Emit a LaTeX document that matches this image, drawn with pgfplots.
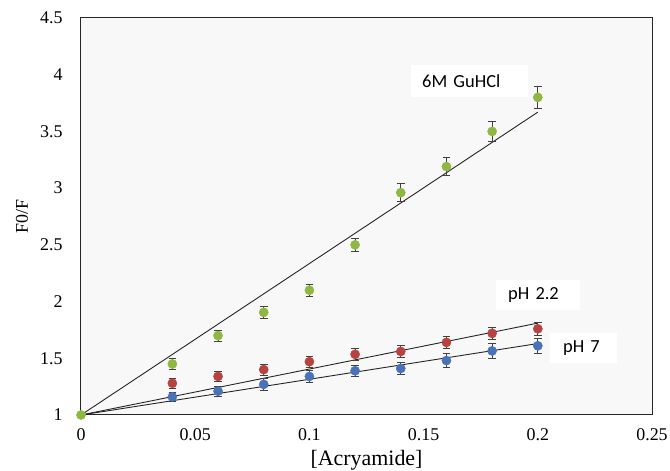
\documentclass[border=0pt]{standalone}
\usepackage{fontspec}
\setmainfont{Liberation Serif}
\newfontfamily\labelfont{Carlito}
\usepackage{pgfplots}
\pgfplotsset{compat=1.18}
\definecolor{ptgreen}{HTML}{8EB841}
\definecolor{ptred}{HTML}{B8423F}
\definecolor{ptblue}{HTML}{4A72B8}
\definecolor{plotbg}{HTML}{F8F8F8}

\pgfplotsset{
  pts/.style={only marks, mark=*, mark size=4.6bp,
    mark options={draw=#1, fill=#1},
    error bars/.cd, y dir=both, y explicit,
    error bar style={black!75, line width=0.7bp},
    error mark options={rotate=90, mark size=3.8bp, black!75, line width=0.7bp}},
  fitline/.style={black!85, line width=0.9bp, no marks}
}
\tikzset{
  tag/.style={fill=white, anchor=west, inner xsep=0pt, align=left,
    text width=#1, font=\labelfont\fontsize{18.5}{20}\selectfont}
}

\begin{document}
\begin{tikzpicture}[x=1bp,y=1bp]
\path[use as bounding box] (-81,-56) rectangle (589,415);
\begin{axis}[
  anchor=south west, at={(0,0)},
  scale only axis,
  width=571bp, height=397bp,
  xmin=0, xmax=0.25, ymin=1, ymax=4.5,
  xtick={0,0.05,0.1,0.15,0.2,0.25},
  xticklabels={0,0.05,0.1,0.15,0.2,0.25},
  ytick={1,1.5,2,2.5,3,3.5,4,4.5},
  yticklabels={1,1.5,2,2.5,3,3.5,4,4.5},
  major tick length=0pt,
  axis line style={black!85, line width=1bp},
  axis background/.style={fill=plotbg},
  tick label style={font=\fontsize{18}{20}\selectfont},
  yticklabel style={anchor=east, xshift=-15bp},
  xticklabel style={anchor=center, yshift=-20bp},
  xlabel={[Acryamide]},
  ylabel={F0/F},
  xlabel style={font=\fontsize{22}{24}\selectfont, at={(rel axis cs:0.5,0)}, anchor=center, yshift=-45bp},
  ylabel style={font=\fontsize{18}{20}\selectfont, at={(rel axis cs:0,0.5)}, anchor=center, yshift=59bp},
  clip=false
]
% linear fits
\addplot[fitline] coordinates {(0,1) (0.2,3.67)};
\addplot[fitline] coordinates {(0,1) (0.2,1.81)};
\addplot[fitline] coordinates {(0,1) (0.2,1.63)};

% pH 7
\addplot[pts=ptblue] coordinates {
  (0.04,1.16) +- (0,0.04)
  (0.06,1.21) +- (0,0.045)
  (0.08,1.27) +- (0,0.05)
  (0.10,1.34) +- (0,0.05)
  (0.12,1.39) +- (0,0.05)
  (0.14,1.41) +- (0,0.055)
  (0.16,1.48) +- (0,0.06)
  (0.18,1.565) +- (0,0.065)
  (0.20,1.61) +- (0,0.065)
};
% pH 2.2
\addplot[pts=ptred] coordinates {
  (0.04,1.28) +- (0,0.045)
  (0.06,1.34) +- (0,0.045)
  (0.08,1.40) +- (0,0.05)
  (0.10,1.47) +- (0,0.05)
  (0.12,1.535) +- (0,0.05)
  (0.14,1.56) +- (0,0.05)
  (0.16,1.64) +- (0,0.05)
  (0.18,1.72) +- (0,0.055)
  (0.20,1.76) +- (0,0.055)
};
% 6M GuHCl
\addplot[pts=ptgreen] coordinates {
  (0.04,1.45) +- (0,0.045)
  (0.06,1.70) +- (0,0.05)
  (0.08,1.905) +- (0,0.05)
  (0.10,2.10) +- (0,0.05)
  (0.12,2.50) +- (0,0.06)
  (0.14,2.96) +- (0,0.08)
  (0.16,3.19) +- (0,0.08)
  (0.18,3.50) +- (0,0.085)
  (0.20,3.80) +- (0,0.10)
};
\addplot[only marks, mark=*, mark size=4.6bp, mark options={draw=ptgreen, fill=ptgreen}] coordinates {(0,1)};

\node[tag=117bp, minimum height=32bp] at (axis cs:0.1445,3.945) {\hspace*{11bp}6M GuHCl};
\node[tag=84bp, minimum height=30bp] at (axis cs:0.1817,2.058) {\hspace*{12bp}pH 2.2};
\node[tag=67bp, minimum height=30bp] at (axis cs:0.2053,1.59) {\hspace*{13bp}pH 7};
\end{axis}
\end{tikzpicture}
\end{document}
